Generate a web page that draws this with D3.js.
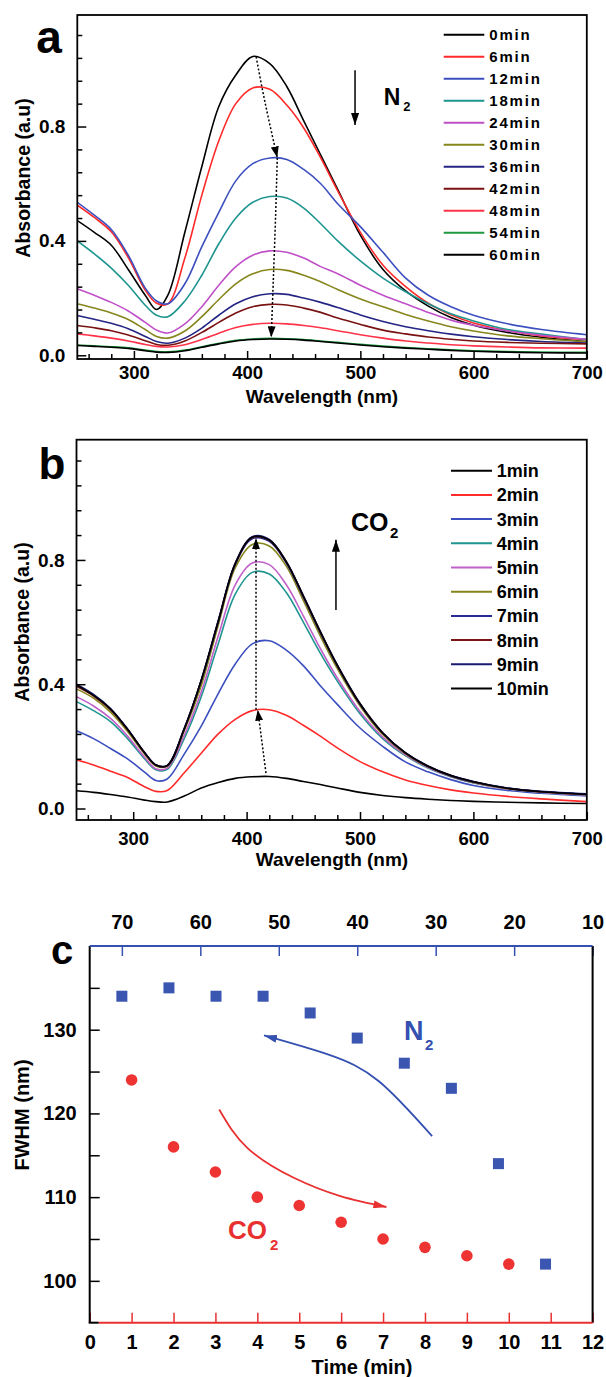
<!DOCTYPE html>
<html><head><meta charset="utf-8">
<script src="https://cdn.jsdelivr.net/npm/d3@7"></script>
<style>
body{margin:0;background:#fff}
svg{display:block;font-family:"Liberation Sans",Arial,Helvetica,sans-serif}
</style></head>
<body><svg id="chart" width="606" height="1377"></svg>
<script>
// ---------------- DATA ----------------
const wavelength = [250,265,280,295,310,320,330,345,360,375,390,405,420,435,450,465,480,500,520,540,560,580,600,630,660,700];

// Panel a: N2 purging (absorbance)
const n2Labels = ["0min","6min","12min","18min","24min","30min","36min","42min","48min","54min","60min"];
const n2_0min  = [0.471,0.43,0.385,0.30,0.21,0.16,0.21,0.43,0.66,0.87,0.98,1.045,1.02,0.94,0.82,0.70,0.58,0.42,0.30,0.225,0.172,0.132,0.105,0.08,0.063,0.048];
const n2_6min  = [0.525,0.482,0.432,0.342,0.228,0.182,0.18,0.34,0.56,0.75,0.88,0.935,0.93,0.875,0.795,0.69,0.575,0.43,0.315,0.24,0.182,0.142,0.113,0.086,0.068,0.055];
const n2_12min = [0.535,0.49,0.44,0.35,0.235,0.19,0.18,0.25,0.38,0.50,0.61,0.67,0.69,0.685,0.65,0.60,0.53,0.45,0.36,0.27,0.21,0.17,0.14,0.11,0.09,0.072];
const n2_18min = [0.40,0.355,0.305,0.245,0.175,0.14,0.135,0.19,0.28,0.39,0.48,0.535,0.555,0.55,0.515,0.46,0.40,0.33,0.27,0.222,0.18,0.145,0.12,0.09,0.074,0.055];
const n2_24min = [0.233,0.21,0.185,0.155,0.115,0.088,0.078,0.11,0.17,0.245,0.31,0.35,0.365,0.36,0.34,0.31,0.285,0.245,0.21,0.18,0.15,0.123,0.105,0.085,0.07,0.056];
const n2_30min = [0.18,0.165,0.148,0.125,0.09,0.066,0.06,0.085,0.135,0.195,0.25,0.285,0.30,0.297,0.28,0.257,0.23,0.197,0.17,0.143,0.12,0.10,0.085,0.068,0.058,0.048];
const n2_36min = [0.139,0.126,0.112,0.093,0.066,0.048,0.042,0.06,0.095,0.14,0.18,0.205,0.215,0.213,0.20,0.185,0.167,0.141,0.118,0.10,0.086,0.074,0.065,0.055,0.048,0.043];
const n2_42min = [0.104,0.096,0.086,0.071,0.051,0.038,0.035,0.05,0.08,0.115,0.148,0.17,0.178,0.176,0.165,0.15,0.13,0.108,0.088,0.075,0.064,0.056,0.05,0.045,0.042,0.04];
const n2_48min = [0.075,0.068,0.06,0.05,0.038,0.031,0.029,0.037,0.055,0.077,0.097,0.108,0.112,0.11,0.104,0.096,0.086,0.072,0.06,0.05,0.043,0.037,0.033,0.029,0.026,0.025];
const n2_54min = [0.036,0.033,0.030,0.026,0.018,0.013,0.012,0.018,0.030,0.042,0.052,0.057,0.059,0.058,0.055,0.050,0.045,0.038,0.032,0.027,0.023,0.019,0.016,0.013,0.011,0.010];
const n2_60min = [0.034,0.031,0.028,0.024,0.016,0.011,0.010,0.016,0.028,0.040,0.050,0.055,0.057,0.056,0.053,0.048,0.043,0.036,0.030,0.025,0.021,0.017,0.014,0.011,0.009,0.008];

// Panel b: CO2 bubbling (absorbance)
const co2Labels = ["1min","2min","3min","4min","5min","6min","7min","8min","9min","10min"];
const co2_1min  = [0.057,0.052,0.045,0.037,0.027,0.022,0.021,0.04,0.066,0.084,0.097,0.102,0.103,0.097,0.087,0.077,0.066,0.052,0.042,0.035,0.03,0.026,0.023,0.02,0.018,0.016];
const co2_2min  = [0.157,0.14,0.12,0.10,0.07,0.055,0.058,0.115,0.178,0.24,0.287,0.315,0.318,0.30,0.268,0.233,0.195,0.151,0.118,0.092,0.074,0.06,0.05,0.039,0.031,0.022];
const co2_3min  = [0.25,0.225,0.193,0.16,0.117,0.09,0.095,0.175,0.265,0.37,0.465,0.53,0.54,0.51,0.46,0.395,0.335,0.259,0.2,0.15,0.118,0.093,0.074,0.058,0.049,0.040];
const co2_4min  = [0.344,0.315,0.28,0.225,0.16,0.125,0.126,0.225,0.36,0.53,0.69,0.76,0.755,0.695,0.60,0.50,0.41,0.305,0.225,0.17,0.13,0.102,0.082,0.063,0.052,0.043];
const co2_5min  = [0.36,0.33,0.29,0.233,0.165,0.128,0.13,0.235,0.375,0.555,0.72,0.79,0.785,0.72,0.62,0.515,0.42,0.312,0.23,0.173,0.132,0.103,0.083,0.063,0.052,0.044];
const co2_6min  = [0.385,0.355,0.31,0.248,0.175,0.137,0.136,0.25,0.395,0.59,0.775,0.85,0.845,0.78,0.67,0.555,0.45,0.33,0.238,0.176,0.134,0.104,0.084,0.064,0.053,0.045];
const co2_7min  = [0.398,0.365,0.32,0.255,0.18,0.14,0.138,0.255,0.41,0.60,0.785,0.868,0.86,0.79,0.68,0.565,0.458,0.335,0.242,0.178,0.135,0.105,0.085,0.065,0.054,0.046];
const co2_8min  = [0.393,0.362,0.318,0.254,0.179,0.139,0.138,0.256,0.412,0.603,0.787,0.872,0.863,0.793,0.683,0.568,0.46,0.337,0.243,0.179,0.136,0.106,0.086,0.065,0.054,0.045];
const co2_9min  = [0.40,0.367,0.322,0.256,0.18,0.14,0.139,0.258,0.414,0.605,0.79,0.875,0.866,0.795,0.685,0.57,0.462,0.338,0.244,0.18,0.137,0.107,0.087,0.066,0.055,0.047];
const co2_10min = [0.397,0.364,0.32,0.255,0.18,0.14,0.138,0.256,0.412,0.602,0.788,0.873,0.864,0.794,0.684,0.569,0.461,0.337,0.243,0.179,0.136,0.106,0.086,0.065,0.054,0.046];

// Panel c: FWHM vs time
const co2Time = [1,2,3,4,5,6,7,8,9,10];
const co2Fwhm = [124,116,113,110,109,107,105,104,103,102];
const n2Time  = [70,64,58,52,46,40,34,28,22,16];
const n2Fwhm  = [134,135,134,134,132,129,126,123,114,102];

// Tick values
const absMajorTicks = [0,0.4,0.8];
const absMinorTicks = [0.08,0.16,0.24,0.32,0.48,0.56,0.64,0.72,0.88,0.96,1.04,1.12];
const wlMajorTicks = [300,400,500,600,700];
const wlMinorTicks = [260,280,320,340,360,380,420,440,460,480,520,540,560,580,620,640,660,680];
const timeTicks = [0,1,2,3,4,5,6,7,8,9,10,11,12];
const n2TimeTicks = [70,60,50,40,30,20,10];
const fwhmMajorTicks = [100,110,120,130];
const fwhmMinorTicks = [105,115,125,135];

// ---------------- STYLE ----------------
const n2Colors  = ["#000000","#ff2a2a","#3c4fbf","#1f9590","#c050c8","#86861c","#252585","#7a1212","#ff3348","#1e9a3c","#000000"];
const co2Colors = ["#000000","#ff2a2a","#3c4fbf","#1f9590","#c060c8","#86861c","#2a2a95","#7a1515","#1a1a70","#000000"];
const FONT = '"Liberation Sans",Arial,Helvetica,sans-serif';

const svg = d3.select("#chart");
const defs = svg.append("defs");
function arrowMarker(id, color, len, wid){
  defs.append("marker").attr("id",id).attr("viewBox",`0 0 ${len} ${wid}`)
    .attr("refX",len).attr("refY",wid/2).attr("markerWidth",len).attr("markerHeight",wid)
    .attr("markerUnits","userSpaceOnUse").attr("orient","auto")
    .append("path").attr("d",`M0,0L${len},${wid/2}L0,${wid}Z`).attr("fill",color);
}
arrowMarker("ahBlack","#000",12,8);
arrowMarker("ahDot","#000",11,8);
arrowMarker("ahBlue","#3450b0",13,8);
arrowMarker("ahRed","#e83030",13,8);

function styleAxis(sel, color, fs){
  sel.select(".domain").remove();
  sel.selectAll(".tick line").attr("stroke",color).attr("stroke-width",1.5);
  sel.selectAll(".tick text").attr("fill","#000").attr("font-size",fs).attr("font-weight","bold").attr("font-family",FONT);
}

function spectrumPanel(o){
  const {x,y,series,colors,labels,id} = o;
  const g = svg.append("g");
  const [x0,x1] = x.range(), [y0,y1] = y.range();
  defs.append("clipPath").attr("id","clip"+id).append("rect").attr("x",x0).attr("y",y1).attr("width",x1-x0).attr("height",y0-y1);
  const line = d3.line().x((d,i)=>x(wavelength[i])).y(d=>y(d)).curve(d3.curveCatmullRom.alpha(0.5));
  const cg = g.append("g").attr("clip-path",`url(#clip${id})`);
  series.forEach((s,i)=>{
    cg.append("path").attr("d",line(s)).attr("fill","none").attr("stroke",colors[i]).attr("stroke-width",1.6);
  });
  // axes
  g.append("g").attr("transform",`translate(0,${y0})`)
    .call(d3.axisBottom(x).tickValues(wlMajorTicks).tickSize(-8).tickPadding(o.xPad).tickFormat(d3.format("d")))
    .call(s=>styleAxis(s,"#000",18.5));
  g.append("g").attr("transform",`translate(0,${y0})`)
    .call(d3.axisBottom(x).tickValues(wlMinorTicks).tickSize(-5).tickFormat(""))
    .call(s=>styleAxis(s,"#000",18.5));
  g.append("g").attr("transform",`translate(${x0},0)`)
    .call(d3.axisLeft(y).tickValues(absMajorTicks).tickSize(-9).tickPadding(12).tickFormat(d3.format(".1f")))
    .call(s=>styleAxis(s,"#000",19));
  g.append("g").attr("transform",`translate(${x0},0)`)
    .call(d3.axisLeft(y).tickValues(absMinorTicks).tickSize(-5).tickFormat(""))
    .call(s=>styleAxis(s,"#000",19));
  g.append("rect").attr("x",x0).attr("y",y1).attr("width",x1-x0).attr("height",y0-y1)
    .attr("fill","none").attr("stroke","#000").attr("stroke-width",1.8);
  // legend
  const L = o.legend;
  labels.forEach((lab,i)=>{
    const cy = L.y + i*L.dy;
    g.append("line").attr("x1",L.x1).attr("x2",L.x2).attr("y1",cy).attr("y2",cy).attr("stroke",colors[i]).attr("stroke-width",2);
    g.append("text").attr("x",L.tx).attr("y",cy+L.fs*0.36).attr("font-size",L.fs).attr("font-weight","bold")
      .attr("letter-spacing",L.ls).attr("fill","#000").text(lab);
  });
  // titles
  g.append("text").attr("x",o.xTitle[0]).attr("y",o.xTitle[1]).attr("text-anchor","middle")
    .attr("font-size",19).attr("font-weight","bold").text("Wavelength (nm)");
  g.append("text").attr("transform",`translate(${o.yTitle[0]},${o.yTitle[1]}) rotate(-90)`).attr("text-anchor","middle")
    .attr("font-size",19.5).attr("font-weight","bold").text("Absorbance (a.u)");
  g.append("text").attr("x",o.letter[0]).attr("y",o.letter[1]).attr("text-anchor","middle")
    .attr("font-size",o.letter[2]).attr("font-weight","bold").text(o.letter[3]);
  return g;
}

// ---------- Panel a ----------
const xA = d3.scaleLinear([250,700],[77.3,586.8]);
const yA = d3.scaleLinear([-0.013,1.19],[359,15]);
const gA = spectrumPanel({id:"a",x:xA,y:yA,xPad:7,
  series:[n2_0min,n2_6min,n2_12min,n2_18min,n2_24min,n2_30min,n2_36min,n2_42min,n2_48min,n2_54min,n2_60min],
  colors:n2Colors,labels:n2Labels,
  legend:{x1:443.7,x2:484.3,tx:489.3,y:34.7,dy:22,fs:15,ls:"1.8px"},
  xTitle:[322,403],yTitle:[30,178],letter:[49,53,46,"a"]});
// dotted trend arrow
const dotLineA = d3.line().x(d=>xA(d[0])).y(d=>yA(d[1])).curve(d3.curveCatmullRom);
gA.append("path").attr("d",dotLineA([[408,1.044],[413.4,0.931],[419.3,0.82],[426.6,0.692]]))
  .attr("fill","none").attr("stroke","#000").attr("stroke-width",1.5).attr("stroke-dasharray","2,2").attr("marker-end","url(#ahDot)");
gA.append("path").attr("d",dotLineA([[426.6,0.69],[425.2,0.494],[423.1,0.261],[421.3,0.063]]))
  .attr("fill","none").attr("stroke","#000").attr("stroke-width",1.5).attr("stroke-dasharray","2,2").attr("marker-end","url(#ahDot)");
gA.append("line").attr("x1",xA(495.3)).attr("x2",xA(495.3)).attr("y1",yA(0.997)).attr("y2",yA(0.805))
  .attr("stroke","#000").attr("stroke-width",1.5).attr("marker-end","url(#ahBlack)");
const nA = gA.append("text").attr("x",383.7).attr("y",104.7).attr("font-size",23).attr("font-weight","bold").attr("fill","#000");
nA.append("tspan").text("N");
nA.append("tspan").attr("font-size",13).attr("dx",3).attr("dy",6).text("2");

// ---------- Panel b ----------
const xB = d3.scaleLinear([250,700],[76.5,586.8]);
const yB = d3.scaleLinear([-0.037,1.187],[820,439.7]);
const gB = spectrumPanel({id:"b",x:xB,y:yB,xPad:12,
  series:[co2_1min,co2_2min,co2_3min,co2_4min,co2_5min,co2_6min,co2_7min,co2_8min,co2_9min,co2_10min],
  colors:co2Colors,labels:co2Labels,
  legend:{x1:451,x2:492,tx:496.7,y:470.7,dy:24.2,fs:18,ls:"0px"},
  xTitle:[332,866],yTitle:[29,622],letter:[52,479,44,"b"]});
const dotLineB = d3.line().x(d=>xB(d[0])).y(d=>yB(d[1]));
gB.append("path").attr("d",dotLineB([[417.1,0.114],[409.8,0.318]]))
  .attr("fill","none").attr("stroke","#000").attr("stroke-width",1.5).attr("stroke-dasharray","2,2").attr("marker-end","url(#ahDot)");
gB.append("path").attr("d",dotLineB([[408.3,0.318],[408.3,0.87]]))
  .attr("fill","none").attr("stroke","#000").attr("stroke-width",1.5).attr("stroke-dasharray","2,2").attr("marker-end","url(#ahDot)");
gB.append("line").attr("x1",xB(478.8)).attr("x2",xB(478.8)).attr("y1",yB(0.639)).attr("y2",yB(0.865))
  .attr("stroke","#000").attr("stroke-width",1.5).attr("marker-end","url(#ahBlack)");
const cB = gB.append("text").attr("x",351).attr("y",531.3).attr("font-size",25).attr("font-weight","bold").attr("fill","#000");
cB.append("tspan").text("CO");
cB.append("tspan").attr("font-size",15).attr("dx",1.5).attr("dy",7).text("2");

// ---------- Panel c ----------
const xC = d3.scaleLinear([0,12],[89.7,592.6]);
const xCtop = d3.scaleLinear([74.1,10],[89.7,592.6]);
const yC = d3.scaleLinear([95,140],[1322.7,946]);
const gC = svg.append("g");
const BLUE = "#3450b0", RED = "#e83030";
gC.append("g").attr("transform",`translate(0,${yC.range()[0]})`)
  .call(d3.axisBottom(xC).tickValues(timeTicks).tickSize(-10).tickPadding(12).tickFormat(d3.format("d")))
  .call(s=>styleAxis(s,RED,20));
gC.append("g").attr("transform",`translate(0,${yC.range()[1]})`)
  .call(d3.axisTop(xCtop).tickValues(n2TimeTicks).tickSize(-10).tickPadding(17).tickFormat(d3.format("d")))
  .call(s=>styleAxis(s,BLUE,20));
gC.append("g").attr("transform",`translate(${xC.range()[0]},0)`)
  .call(d3.axisLeft(yC).tickValues(fwhmMajorTicks).tickSize(-10).tickPadding(13).tickFormat(d3.format("d")))
  .call(s=>styleAxis(s,"#000",20));
gC.append("g").attr("transform",`translate(${xC.range()[0]},0)`)
  .call(d3.axisLeft(yC).tickValues(fwhmMinorTicks).tickSize(-10).tickFormat(""))
  .call(s=>styleAxis(s,"#000",20));
// frame: left/right black, top blue, bottom red
const [cx0,cx1] = xC.range(), [cy0,cy1] = yC.range();
gC.append("line").attr("x1",cx0).attr("x2",cx0).attr("y1",cy1).attr("y2",cy0).attr("stroke","#000").attr("stroke-width",2);
gC.append("line").attr("x1",cx1).attr("x2",cx1).attr("y1",cy1).attr("y2",cy0).attr("stroke","#000").attr("stroke-width",2);
gC.append("line").attr("x1",cx0).attr("x2",cx1).attr("y1",cy1).attr("y2",cy1).attr("stroke",BLUE).attr("stroke-width",2);
gC.append("line").attr("x1",cx0+9).attr("x2",cx1).attr("y1",cy0).attr("y2",cy0).attr("stroke",RED).attr("stroke-width",2);
gC.append("line").attr("x1",cx0-1).attr("x2",cx0+9).attr("y1",cy0).attr("y2",cy0).attr("stroke","#000").attr("stroke-width",2);
// markers
gC.selectAll("rect.n2").data(n2Time).join("rect").attr("class","n2")
  .attr("x",(d)=>xCtop(d)-5.5).attr("y",(d,i)=>yC(n2Fwhm[i])-5.5).attr("width",11).attr("height",11).attr("fill","#3a56b0");
gC.selectAll("circle.co2").data(co2Time).join("circle").attr("class","co2")
  .attr("cx",d=>xC(d)).attr("cy",(d,i)=>yC(co2Fwhm[i])).attr("r",5.8).attr("fill","#ee3333");
// curved arrows
const arcLine = d3.line().x(d=>xC(d[0])).y(d=>yC(d[1])).curve(d3.curveNatural);
gC.append("path").attr("d",arcLine([[8.17,117.28],[6.90,123.84],[5.70,127.02],[4.16,129.32]]))
  .attr("fill","none").attr("stroke",BLUE).attr("stroke-width",1.8).attr("marker-end","url(#ahBlue)");
gC.append("path").attr("d",arcLine([[3.09,120.46],[3.76,115.89],[4.87,112.31],[5.98,110.13],[7.08,108.82]]))
  .attr("fill","none").attr("stroke",RED).attr("stroke-width",1.8).attr("marker-end","url(#ahRed)");
const nC = gC.append("text").attr("x",404).attr("y",1040).attr("font-size",27).attr("font-weight","bold").attr("fill",BLUE);
nC.append("tspan").text("N");
nC.append("tspan").attr("font-size",15).attr("dx",1.5).attr("dy",10).text("2");
const cC = gC.append("text").attr("x",228).attr("y",1239.3).attr("font-size",26).attr("font-weight","bold").attr("fill",RED);
cC.append("tspan").text("CO");
cC.append("tspan").attr("font-size",15).attr("dx",3).attr("dy",11).text("2");
// titles
gC.append("text").attr("x",362).attr("y",1374).attr("text-anchor","middle").attr("font-size",20).attr("font-weight","bold").text("Time (min)");
gC.append("text").attr("transform",`translate(29,1115) rotate(-90)`).attr("text-anchor","middle")
  .attr("font-size",20).attr("font-weight","bold").text("FWHM (nm)");
gC.append("text").attr("x",62).attr("y",964).attr("text-anchor","middle").attr("font-size",40).attr("font-weight","bold").text("c");
</script>
</body></html>
